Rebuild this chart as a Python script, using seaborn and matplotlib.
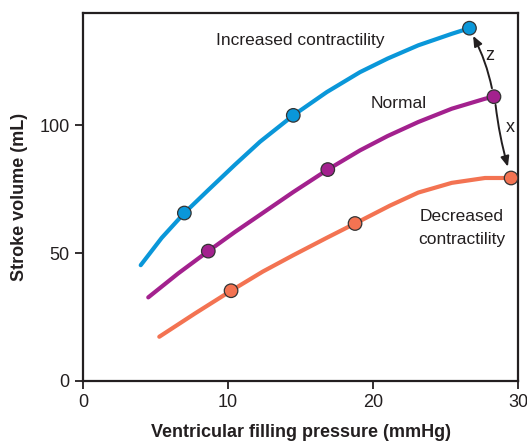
import matplotlib
matplotlib.use("Agg")
import matplotlib.pyplot as plt
import seaborn as sns
import pandas as pd

# curves (filling pressure mmHg, stroke volume mL)
increased_x = [3.98, 5.43, 6.99, 8.64, 10.48, 12.21, 14.5, 16.81, 19.1, 21.0, 23.12, 25.43, 26.65]
increased_y = [45.3, 56.0, 65.7, 74.7, 84.6, 93.6, 103.9, 113.0, 120.8, 126.1, 131.3, 135.8, 138.0]
normal_x = [4.5, 6.57, 8.64, 10.48, 12.21, 14.5, 16.88, 19.1, 21.0, 23.12, 25.43, 27.72, 28.34]
normal_y = [32.7, 42.1, 50.8, 58.3, 65.0, 73.9, 82.7, 90.2, 95.8, 101.3, 106.5, 110.4, 111.2]
decreased_x = [5.26, 7.72, 10.21, 12.4, 14.5, 16.81, 18.76, 21.17, 23.12, 25.43, 27.72, 29.52]
decreased_y = [17.3, 26.4, 35.3, 42.8, 49.2, 56.0, 61.6, 68.6, 73.7, 77.5, 79.4, 79.4]

# highlighted points on each curve
increased_pts_x = [6.99, 14.5, 26.65]
increased_pts_y = [65.7, 103.9, 138.0]
normal_pts_x = [8.64, 16.88, 28.34]
normal_pts_y = [50.8, 82.7, 111.2]
decreased_pts_x = [10.21, 18.76, 29.52]
decreased_pts_y = [35.3, 61.6, 79.4]

colors = {"Increased": "#0a97d9", "Normal": "#a3218e", "Decreased": "#f37352"}

curves = pd.concat([
    pd.DataFrame({"pressure": increased_x, "volume": increased_y, "state": "Increased"}),
    pd.DataFrame({"pressure": normal_x, "volume": normal_y, "state": "Normal"}),
    pd.DataFrame({"pressure": decreased_x, "volume": decreased_y, "state": "Decreased"}),
])
points = pd.concat([
    pd.DataFrame({"pressure": increased_pts_x, "volume": increased_pts_y, "state": "Increased"}),
    pd.DataFrame({"pressure": normal_pts_x, "volume": normal_pts_y, "state": "Normal"}),
    pd.DataFrame({"pressure": decreased_pts_x, "volume": decreased_pts_y, "state": "Decreased"}),
])

sns.set_style("ticks")
plt.rcParams["font.family"] = ["Liberation Sans", "DejaVu Sans"]
ink = "#231f20"

fig = plt.figure(figsize=(5.27, 4.43), dpi=100)
ax = fig.add_axes([0.1575, 0.14, 0.8255, 0.831])

sns.lineplot(data=curves, x="pressure", y="volume", hue="state", palette=colors,
             sort=False, estimator=None, linewidth=3.0, legend=False, ax=ax)
sns.scatterplot(data=points, x="pressure", y="volume", hue="state", palette=colors,
                s=95, edgecolor="#333333", linewidth=0.9, legend=False, zorder=5, ax=ax)

ax.set_xlim(0, 30)
ax.set_ylim(0, 144)
ax.set_xticks([0, 10, 20, 30])
ax.set_yticks([0, 50, 100])
for side in ax.spines.values():
    side.set_linewidth(1.6)
    side.set_color(ink)
ax.tick_params(direction="out", length=6, width=1.3, colors=ink, labelsize=13, labelcolor=ink)
ax.set_xlabel("Ventricular filling pressure (mmHg)", fontsize=13, fontweight="bold", color=ink, labelpad=9)
ax.set_ylabel("Stroke volume (mL)", fontsize=13, fontweight="bold", color=ink, labelpad=8)

ax.text(14.97, 133.3, "Increased contractility", fontsize=12.5, color=ink, ha="center", va="center")
ax.text(21.76, 108.6, "Normal", fontsize=12.5, color=ink, ha="center", va="center")
ax.text(26.1, 59.8, "Decreased\ncontractility", fontsize=12.5, color=ink, ha="center", va="center",
        linespacing=1.7)

# z: normal -> increased, x: normal -> decreased
ax.annotate("", xy=(26.9, 135.0), xytext=(28.2, 114.5),
            arrowprops=dict(arrowstyle="-|>,head_length=0.6,head_width=0.25", color=ink, lw=1.4,
                            connectionstyle="arc3,rad=0.07", shrinkA=0, shrinkB=0))
ax.annotate("", xy=(29.3, 83.8), xytext=(28.45, 108.0),
            arrowprops=dict(arrowstyle="-|>,head_length=0.6,head_width=0.25", color=ink, lw=1.4,
                            connectionstyle="arc3,rad=0.04", shrinkA=0, shrinkB=0))
ax.text(28.05, 127.3, "z", fontsize=13, color=ink, ha="center", va="center")
ax.text(29.45, 99.2, "x", fontsize=13, color=ink, ha="center", va="center")

fig.savefig("out.png", dpi=100)
